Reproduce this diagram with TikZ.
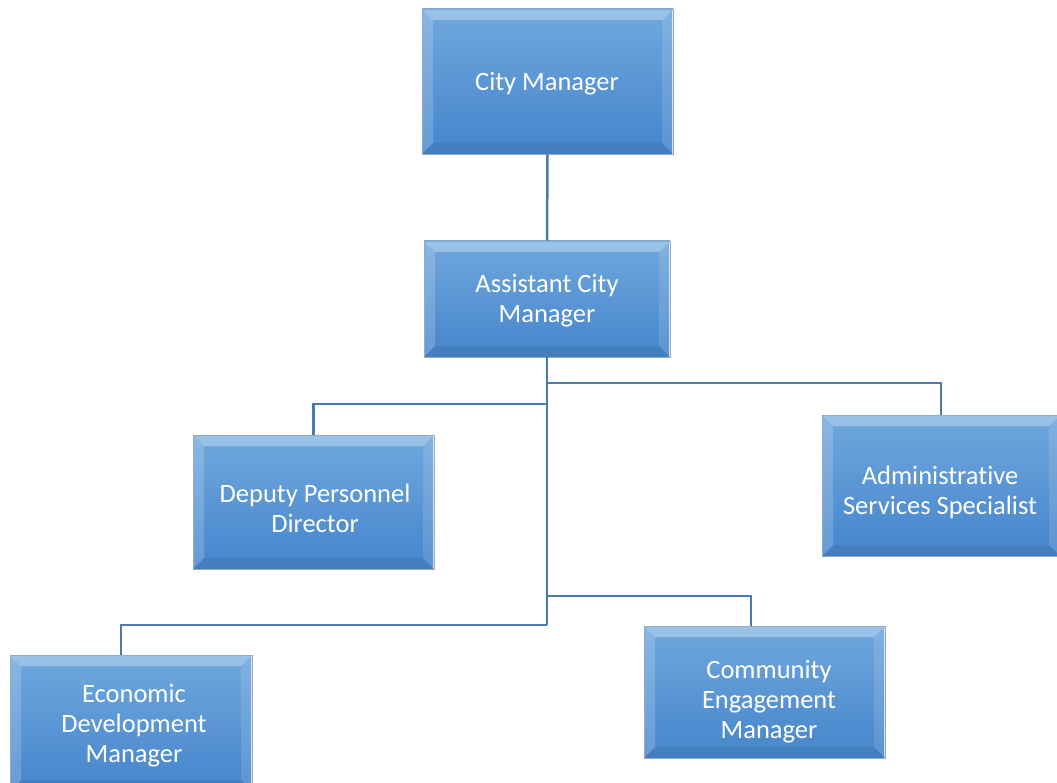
\documentclass[tikz,border=0pt]{standalone}
\usepackage{fontspec}
\setmainfont{Carlito}[Ligatures=NoCommon]
\usetikzlibrary{calc}

\definecolor{boxtop}{RGB}{112,168,222}
\definecolor{boxbot}{RGB}{70,133,204}
\definecolor{boxedge}{RGB}{150,170,190}
\definecolor{wire}{RGB}{74,122,178}

\tikzset{
  orgbox/.style={
    draw=boxedge, line width=0.8pt,
    top color=boxtop, bottom color=boxbot,
    inner sep=0pt,
    path picture={
      \coordinate (b1) at (path picture bounding box.north west);
      \coordinate (b2) at (path picture bounding box.north east);
      \coordinate (b3) at (path picture bounding box.south east);
      \coordinate (b4) at (path picture bounding box.south west);
      \coordinate (i1) at ($(b1)+(11pt,-11pt)$);
      \coordinate (i2) at ($(b2)+(-11pt,-11pt)$);
      \coordinate (i3) at ($(b3)+(-11pt,11pt)$);
      \coordinate (i4) at ($(b4)+(11pt,11pt)$);
      \fill[white,opacity=.30] (b1)--(b2)--(i2)--(i1)--cycle;
      \fill[white,opacity=.18] (b1)--(i1)--(i4)--(b4)--cycle;
      \fill[white,opacity=.12] (b2)--(b3)--(i3)--(i2)--cycle;
      \fill[black,opacity=.06] (b4)--(i4)--(i3)--(b3)--cycle;
      \draw[white,opacity=.7,line width=2pt] (b2)--(b3);
    }},
  boxtext/.style={text=white, font=\fontsize{26.5}{30}\selectfont,
    align=center, inner sep=0pt, yshift=-3pt},
  wireline/.style={draw=wire, line width=2.5pt}
}

\begin{document}
\begin{tikzpicture}[x=1pt,y=-1pt]
  \useasboundingbox (0,0) rectangle (1057,783);
  \clip (0,0) rectangle (1057,783);

  % bus junctions along the trunk
  \coordinate (bus1) at (547,383);
  \coordinate (bus2) at (547,404);
  \coordinate (bus3) at (547,596);
  \coordinate (bus4) at (547,625);
  % drop points of the lower branches
  \coordinate (dropc) at (751,596);
  \coordinate (drope) at (121,625);

  % boxes
  \node[orgbox, minimum width=251pt, minimum height=145pt] (cm)  at (547.5,81.5) {};
  \node[orgbox, minimum width=246pt, minimum height=116pt] (acm) at (547,299) {};
  \node[orgbox, minimum width=241pt, minimum height=134pt] (dpd) at (313.5,502) {};
  \node[orgbox, minimum width=238pt, minimum height=141pt] (ass) at (941,485.5) {};
  \node[orgbox, minimum width=242pt, minimum height=136pt] (edm) at (131,723) {};
  \node[orgbox, minimum width=241pt, minimum height=132pt] (cem) at (764.5,692) {};

  % titles
  \node[boxtext] (cmt)  at (547,81)   {City Manager};
  \node[boxtext] (acmt) at (547,298)  {Assistant City\\Manager};
  \node[boxtext] (dpdt) at (315,505)  {Deputy Personnel\\Director};
  \node[boxtext] (asst) at (940,489)  {Administrative\\Services Specialist};
  \node[boxtext] (edmt) at (134,723)  {Economic\\Development\\Manager};
  \node[boxtext] (cemt) at (769,699)  {Community\\Engagement\\Manager};

  % reporting lines
  \draw[wireline] (cm.south) -- (acm.north);
  \draw[wireline] (acm.south) -- (bus4);
  \draw[wireline] (bus1) -| (ass.north);
  \draw[wireline] (bus2) -| (dpd.north);
  \draw[wireline] (bus3) -- (dropc) -- (dropc |- cem.north);
  \draw[wireline] (bus4) -- (drope) -- (drope |- edm.north);
\end{tikzpicture}
\end{document}
